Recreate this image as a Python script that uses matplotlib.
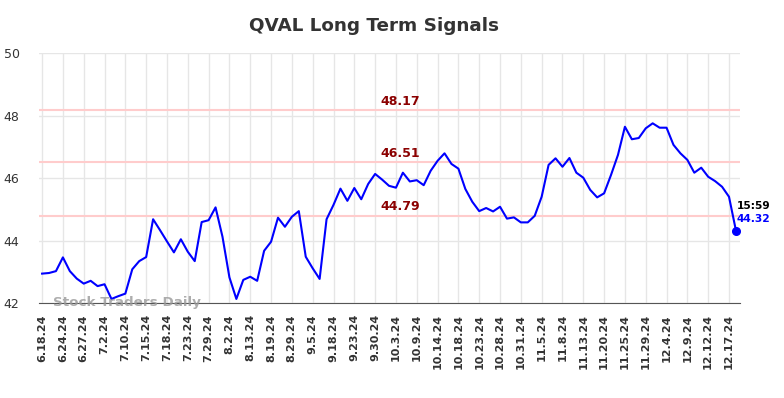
import numpy as np
import matplotlib
matplotlib.use("Agg")
import matplotlib.pyplot as plt

prices = [
    42.94, 42.96, 43.02, 43.46, 43.02, 42.78, 42.62, 42.71, 42.54, 42.60,
    42.13, 42.22, 42.30, 43.08, 43.34, 43.47, 44.68, 44.33, 43.97, 43.62,
    44.04, 43.64, 43.34, 44.59, 44.65, 45.06, 44.12, 42.82, 42.13, 42.74,
    42.84, 42.71, 43.67, 43.96, 44.73, 44.44, 44.76, 44.94, 43.48, 43.11,
    42.77, 44.68, 45.14, 45.66, 45.27, 45.68, 45.32, 45.81, 46.13, 45.95,
    45.75, 45.69, 46.17, 45.89, 45.93, 45.77, 46.23, 46.55, 46.79, 46.45,
    46.30, 45.65, 45.24, 44.94, 45.04, 44.93, 45.08, 44.70, 44.74, 44.58,
    44.58, 44.79, 45.40, 46.42, 46.63, 46.36, 46.64, 46.17, 46.01, 45.62,
    45.38, 45.51, 46.10, 46.74, 47.64, 47.24, 47.28, 47.59, 47.75, 47.61,
    47.61, 47.06, 46.79, 46.58, 46.17, 46.33, 46.04, 45.90, 45.72, 45.40,
    44.32,
]

tick_labels = [
    "6.18.24", "6.24.24", "6.27.24", "7.2.24", "7.10.24", "7.15.24", "7.18.24",
    "7.23.24", "7.29.24", "8.2.24", "8.13.24", "8.19.24", "8.29.24", "9.5.24",
    "9.18.24", "9.23.24", "9.30.24", "10.3.24", "10.9.24", "10.14.24",
    "10.18.24", "10.23.24", "10.28.24", "10.31.24", "11.5.24", "11.8.24",
    "11.13.24", "11.20.24", "11.25.24", "11.29.24", "12.4.24", "12.9.24",
    "12.12.24", "12.17.24",
]

signal_levels = [48.17, 46.51, 44.79]
last_time = "15:59"

x = np.arange(len(prices))
tick_pos = np.arange(len(tick_labels)) * 3

fig = plt.figure(figsize=(7.84, 3.98), dpi=100)
ax = fig.add_axes([0.0497, 0.2387, 0.8943, 0.6281])

for lvl in signal_levels:
    ax.axhline(lvl, color="#ffcccc", lw=1.5, zorder=1)
    ax.text(51.6, lvl + 0.08, f"{lvl:.2f}", color="#8b0000", fontsize=9,
            fontweight="bold", ha="center", va="bottom", zorder=3)

ax.plot(x, prices, color="blue", lw=1.5, zorder=2)
ax.plot(x[-1], prices[-1], "o", color="blue", ms=5.5, zorder=3)

ax.annotate(last_time, (x[-1], prices[-1]), xytext=(0.5, 17.5),
            textcoords="offset points", fontsize=7.7, fontweight="bold",
            color="black", va="center", ha="left")
ax.annotate(f"{prices[-1]:.2f}", (x[-1], prices[-1]), xytext=(0.5, 8),
            textcoords="offset points", fontsize=7.7, fontweight="bold",
            color="blue", va="center", ha="left")

ax.set_xlim(-0.45, 100.6)
ax.set_ylim(42, 50)
ax.set_yticks([42, 44, 46, 48, 50])
ax.set_xticks(tick_pos)
ax.set_xticklabels(tick_labels, rotation=90, fontsize=8, fontweight="bold",
                   color="#333333")
ax.tick_params(axis="y", labelsize=9, colors="#333333", length=0, pad=14)
ax.tick_params(axis="x", length=0, pad=8)
ax.grid(True, color="#e6e6e6", lw=1)
ax.set_axisbelow(True)
for s in ["top", "right", "left"]:
    ax.spines[s].set_visible(False)
ax.spines["bottom"].set_color("#555555")

ax.text(1.6, 42.0, "Stock Traders Daily", fontsize=9.7, fontweight="bold",
        color="#999999", alpha=0.8, va="center", ha="left", zorder=4)

fig.text(0.477, 0.934, "QVAL Long Term Signals", fontsize=13.2,
         fontweight="bold", color="#333333", ha="center", va="center")

fig.savefig("out.png", dpi=100)
